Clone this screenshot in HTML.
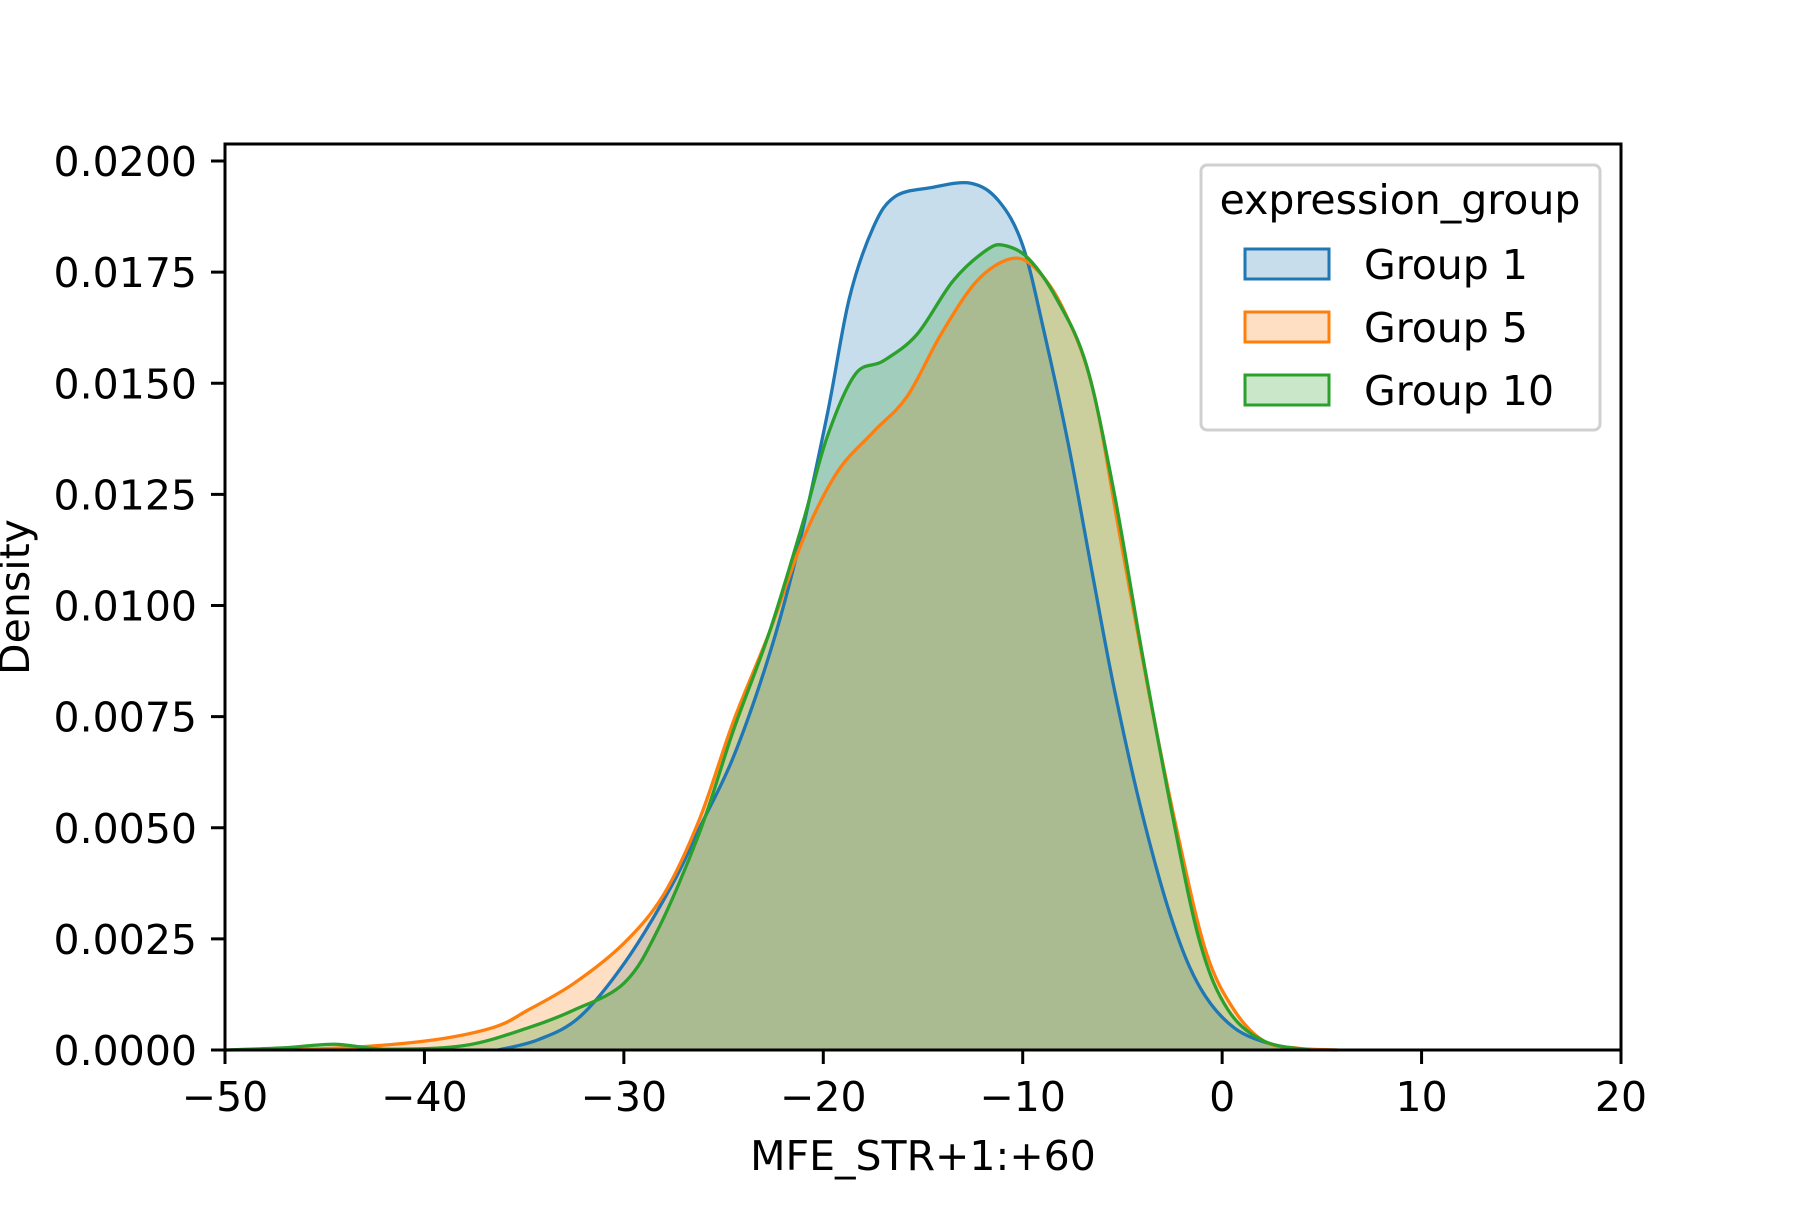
<!DOCTYPE html>
<html><head><meta charset="utf-8"><style>
html,body{margin:0;padding:0;background:#fff;}
svg text{font-family:"DejaVu Sans","Liberation Sans",sans-serif;fill:#000;}
</style></head><body>
<svg id="chart" width="1800" height="1200" viewBox="0 0 1800 1200" xmlns="http://www.w3.org/2000/svg">
<rect width="1800" height="1200" fill="#fff"/>
<g id="curves"></g>
<g id="axes"></g>
</svg>
<script>
const seriesNames = ["Group 1", "Group 5", "Group 10"];
const seriesColors = ["#1f77b4", "#ff7f0e", "#2ca02c"];
const g1x = [-36.3,-34.3,-32.2,-29.9,-27.6,-26.2,-24.5,-22.7,-21.3,-19.8,-18.7,-17.5,-16.4,-14.6,-12.6,-11.2,-10.0,-8.9,-7.7,-6.5,-5.4,-4.0,-2.5,-1.1,0.6,2.7,4.4];
const g1y = [0,0.00023,0.00075,0.0020,0.0037,0.0050,0.0066,0.0089,0.0112,0.0143,0.0169,0.0185,0.0192,0.0194,0.0195,0.0191,0.0181,0.0161,0.0136,0.0107,0.0081,0.0053,0.0029,0.0014,0.0005,0.0001,0];
const g5x = [-50,-45,-40,-36.6,-34.8,-32.5,-30,-28,-26.2,-24.5,-22.7,-21,-19.3,-17.5,-15.8,-14.1,-12.3,-10.6,-9.4,-8,-6.5,-5.1,-3.7,-2.2,-0.8,0.6,2.1,3.8,5.8];
const g5y = [0,0.00003,0.0002,0.0005,0.0009,0.0015,0.0024,0.0035,0.0052,0.0074,0.0094,0.0115,0.0130,0.0139,0.0147,0.0161,0.0173,0.0178,0.0176,0.0167,0.0149,0.0115,0.0081,0.0048,0.0022,0.0009,0.0002,0.00004,0];
const g10x = [-50,-47,-44.5,-42,-38,-34.8,-32.5,-30,-28.3,-26.2,-24.5,-22.7,-21,-19.8,-18.4,-17,-15.3,-13.5,-11.8,-10.9,-9.7,-8.3,-6.8,-5.4,-4,-2.5,-1.1,0.3,2.1,4.4];
const g10y = [0,0.00005,0.00013,0.00002,0.0001,0.0005,0.0009,0.0015,0.0027,0.0049,0.0072,0.0094,0.0119,0.0138,0.0152,0.0155,0.0161,0.0173,0.0180,0.0181,0.0178,0.0169,0.0154,0.0125,0.0089,0.0053,0.0024,0.0009,0.0002,0];
const xTicks = [-50,-40,-30,-20,-10,0,10,20];
const xTickLabels = ["\u221250","\u221240","\u221230","\u221220","\u221210","0","10","20"];
const yTicks = [0,0.0025,0.005,0.0075,0.01,0.0125,0.015,0.0175,0.02];
const yTickLabels = ["0.0000","0.0025","0.0050","0.0075","0.0100","0.0125","0.0150","0.0175","0.0200"];

const L=225,R=1621,T=144,B=1050;
const xMin=-50,xMax=20,yMax=0.02*(B-T)/(B-161);
function sx(v){return L+(v-xMin)/(xMax-xMin)*(R-L);}
function sy(v){return B-v/yMax*(B-T);}
const NS="http://www.w3.org/2000/svg";
function mk(tag,attrs,parent){const e=document.createElementNS(NS,tag);for(const k in attrs)e.setAttribute(k,attrs[k]);parent.appendChild(e);return e;}
function smooth(xs,ys){
  const p=xs.map((x,i)=>[sx(x),sy(ys[i])]);
  let d="M"+p[0][0]+","+p[0][1];
  for(let i=0;i<p.length-1;i++){
    const p0=p[i-1]||p[i],p1=p[i],p2=p[i+1],p3=p[i+2]||p2;
    const c1=[p1[0]+(p2[0]-p0[0])/6,p1[1]+(p2[1]-p0[1])/6];
    const c2=[p2[0]-(p3[0]-p1[0])/6,p2[1]-(p3[1]-p1[1])/6];
    d+=" C"+c1[0]+","+Math.min(c1[1],B)+" "+c2[0]+","+Math.min(c2[1],B)+" "+p2[0]+","+p2[1];
  }
  return d;
}
const curves=document.getElementById("curves");
const data=[[g1x,g1y],[g5x,g5y],[g10x,g10y]];
data.forEach((s,i)=>{
  const d=smooth(s[0],s[1]);
  const f=mk("path",{d:d+" L"+sx(s[0][s[0].length-1])+","+B+" L"+sx(s[0][0])+","+B+" Z",fill:seriesColors[i],"fill-opacity":0.25,stroke:"none"},curves);
  
  
});
data.forEach((s,i)=>{
  const l=mk("path",{d:smooth(s[0],s[1]),fill:"none",stroke:seriesColors[i],"stroke-width":3.3},curves);
  
  
});
const ax=document.getElementById("axes");
const fr=mk("rect",{x:L,y:T,width:R-L,height:B-T,fill:"none",stroke:"#000","stroke-width":3},ax);


xTicks.forEach((v,i)=>{
  mk("line",{x1:sx(v),x2:sx(v),y1:B,y2:B+14,stroke:"#000","stroke-width":3},ax);
  const t=mk("text",{x:sx(v),y:B+61,"text-anchor":"middle","font-size":41},ax);
  t.textContent=xTickLabels[i];
  
  
});
yTicks.forEach((v,i)=>{
  mk("line",{x1:L-14,x2:L,y1:sy(v),y2:sy(v),stroke:"#000","stroke-width":3},ax);
  const t=mk("text",{x:L-28,y:sy(v)+15,"text-anchor":"end","font-size":41},ax);
  t.textContent=yTickLabels[i];
  
  
});
const xt=mk("text",{x:(L+R)/2,y:1170,"text-anchor":"middle","font-size":41},ax);
xt.textContent="MFE_STR+1:+60";


const yt=mk("text",{x:0,y:0,"text-anchor":"middle","font-size":41,transform:"translate(29,"+((T+B)/2)+") rotate(-90)"},ax);
yt.textContent="Density";


const lg=mk("g",{},ax);


mk("rect",{x:1201,y:165,width:399,height:265,rx:6,fill:"#fff","fill-opacity":0.8,stroke:"#d0d0d0","stroke-width":3},lg);
const lt=mk("text",{x:1400,y:214,"text-anchor":"middle","font-size":41},lg);
lt.textContent="expression_group";


seriesNames.forEach((n,i)=>{
  const cy=264+i*63;
  const e=mk("g",{},lg);
  
  
  mk("rect",{x:1245,y:cy-15,width:84,height:30,fill:"#fff",stroke:"none"},e);
  mk("rect",{x:1245,y:cy-15,width:84,height:30,fill:seriesColors[i],"fill-opacity":0.25,stroke:seriesColors[i],"stroke-width":3},e);
  const t=mk("text",{x:1364,y:cy+15,"font-size":41},e);
  t.textContent=n;
});
</script>
</body></html>
